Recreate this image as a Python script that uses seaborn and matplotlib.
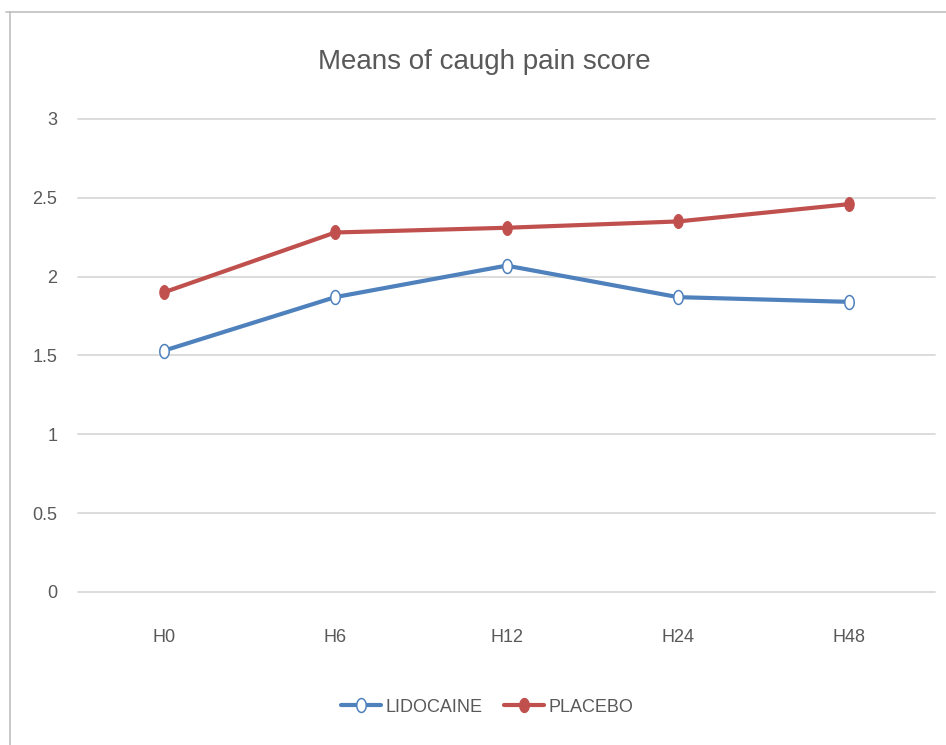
import numpy as np
import pandas as pd
import matplotlib
matplotlib.use("Agg")
import matplotlib.pyplot as plt
import matplotlib.lines as mlines
import seaborn as sns

# values
hours = ["H0", "H6", "H12", "H24", "H48"]
lidocaine = [1.53, 1.87, 2.07, 1.87, 1.84]
placebo = [1.90, 2.28, 2.31, 2.35, 2.46]
yticks = [0, 0.5, 1, 1.5, 2, 2.5, 3]

df = pd.DataFrame({
    "Hour": hours * 2,
    "Score": lidocaine + placebo,
    "Group": ["LIDOCAINE"] * len(hours) + ["PLACEBO"] * len(hours),
})

sns.set_theme(style="white")
plt.rcParams["font.family"] = ["Liberation Sans", "DejaVu Sans"]

blue = "#4F81BD"
red = "#C0504D"
grey = "#595959"

# slightly tall ellipse, the source picture is squeezed sideways
t = np.linspace(0, 2 * np.pi, 40)
ellipse = list(zip(0.68 * np.cos(t), np.sin(t)))
msize = 10

fig = plt.figure(figsize=(9.46, 7.45), dpi=100)
ax = fig.add_axes([0.0825, 0.2054, 0.9059, 0.6349])

sns.lineplot(data=df[df["Group"] == "LIDOCAINE"], x="Hour", y="Score", ax=ax,
             color=blue, linewidth=3, marker=ellipse, markersize=msize,
             markerfacecolor="white", markeredgecolor=blue, markeredgewidth=1.1)
sns.lineplot(data=df[df["Group"] == "PLACEBO"], x="Hour", y="Score", ax=ax,
             color=red, linewidth=3, marker=ellipse, markersize=msize,
             markerfacecolor=red, markeredgecolor=red)

ax.set_xlim(-0.5, len(hours) - 0.5)
ax.set_ylim(0, 3)
ax.set_yticks(yticks)
ax.set_yticklabels([f"{v:g}" for v in yticks])
ax.yaxis.grid(True, color="#D9D9D9", linewidth=1.3)
for gl in ax.get_ygridlines():
    gl.set_clip_on(False)
ax.set_axisbelow(True)
for s in ax.spines.values():
    s.set_visible(False)
ax.tick_params(axis="both", length=0, labelsize=13, colors=grey)
ax.tick_params(axis="y", pad=15)
ax.tick_params(axis="x", pad=27)
ax.set_xlabel("")
ax.set_ylabel("")

fig.text(0.512, 0.917, "Means of caugh pain score", ha="center", va="center",
         fontsize=20, color=grey)

h1 = mlines.Line2D([], [], color=blue, linewidth=3, marker=ellipse, markersize=msize,
                   markerfacecolor="white", markeredgecolor=blue, markeredgewidth=1.1)
h2 = mlines.Line2D([], [], color=red, linewidth=3, marker=ellipse, markersize=msize,
                   markerfacecolor=red, markeredgecolor=red)
fig.legend([h1, h2], ["LIDOCAINE", "PLACEBO"], loc="center", bbox_to_anchor=(0.515, 0.051),
           ncol=2, frameon=False, fontsize=13, labelcolor=grey, handlelength=2.2,
           columnspacing=1.2, handletextpad=0.25)

# outer frame (top and left edges only are visible in the source)
fig.add_artist(mlines.Line2D([0.006, 1.0], [0.984, 0.984], color="#BFBFBF", linewidth=1.2,
                             transform=fig.transFigure))
fig.add_artist(mlines.Line2D([0.0105, 0.0105], [0.0, 0.984], color="#BFBFBF", linewidth=1.2,
                             transform=fig.transFigure))

fig.savefig("out.png", dpi=100)
